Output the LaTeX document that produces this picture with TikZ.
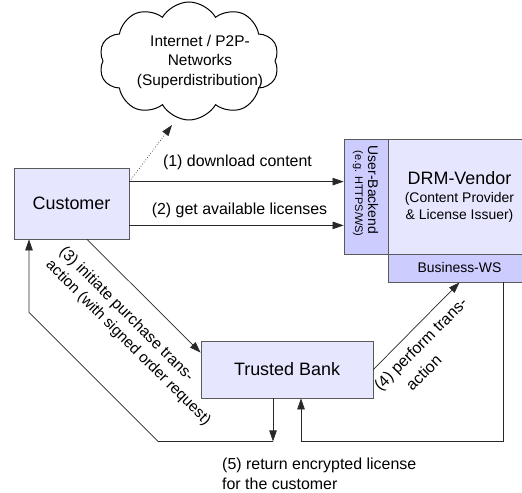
\documentclass[tikz,border=0pt]{standalone}
\usepackage{fontspec}
\setmainfont{Liberation Sans}
\usetikzlibrary{shapes.symbols,arrows.meta,calc}

\definecolor{boxfill}{RGB}{230,230,255}
\definecolor{portfill}{RGB}{204,204,255}
\definecolor{boxline}{RGB}{90,90,90}
\definecolor{wire}{RGB}{40,40,40}

\newcommand\fsz[2]{\fontsize{#1}{#2}\selectfont}

\begin{document}
\begin{tikzpicture}[x=1bp,y=-1bp,
  arr/.style={draw=wire, line width=0.7bp, -{Triangle[length=11bp,width=7.5bp]}},
  box/.style={draw=boxline, fill=boxfill, rectangle, inner sep=0pt, line width=0.8bp},
  port/.style={box, fill=portfill},
  lbl/.style={font=\fsz{16}{19.5}, inner sep=0pt}]
\useasboundingbox (0,0) rectangle (522,493);

% the distribution cloud
\node[cloud, draw, fill=white, cloud puffs=10, cloud puff arc=120, aspect=1.5,
      minimum width=180bp, minimum height=118bp, inner sep=0pt, line width=1bp] (net) at (189,61) {};
\node[lbl, align=center, font=\fsz{15.5}{20}] (nettext) at (200,62)
  {Internet / P2P-\\Networks\\(Superdistribution)};

% parties
\node[box, minimum width=115bp, minimum height=71bp, font=\fsz{18}{20}] (cust) at (71.5,203.5) {Customer};

\node[box, minimum width=143bp, minimum height=115bp] (vendor) at (459.5,196.5) {};
\node[font=\fsz{18}{20}, inner sep=0pt] (vt1) at (459.5,178) {DRM-Vendor};
\node[font=\fsz{14}{17}, align=center, inner sep=0pt] (vt2) at (459.5,207.5) {(Content Provider\\\& License Issuer)};

\node[port, minimum width=44bp, minimum height=115bp] (backend) at (366,196.5) {};
\node[rotate=-90, font=\fsz{14}{16}, inner sep=0pt] (ub1) at (373,190) {User-Backend};
\node[rotate=-90, font=\fsz{11}{13}, inner sep=0pt] (ub2) at (358,193.5) {(e.g. HTTPS/WS)};

\node[port, minimum width=143bp, minimum height=28bp, font=\fsz{14}{16}] (bws) at (459.5,268) {Business-WS};

\node[box, minimum width=172bp, minimum height=57bp, font=\fsz{18}{20}] (bank) at (287,369.5) {Trusted Bank};

% (1) and (2): customer to user backend
\coordinate (c1) at ([yshift=-14bp]cust.north east);
\coordinate (c2) at ([yshift=14bp]cust.south east);
\draw[arr] (c1) -- (c1 -| backend.west)
  node[lbl, midway, yshift=19bp, xshift=1bp] (l1) {(1) download content};
\draw[arr] (c2) -- (c2 -| backend.west)
  node[lbl, midway, yshift=15bp, xshift=3bp] (l2) {(2) get available licenses};

% superdistribution
\coordinate (cl) at (172,125);
\draw[arr, dotted] (c1) -- (cl);

% (3) purchase transaction
\coordinate (c3) at ([xshift=15.5bp]cust.south);
\draw[arr] (c3) -- ([yshift=-12bp]bank.north west);
\node[lbl, rotate=-45, anchor=west, font=\fsz{15.8}{19}] (l3a) at (61.5,249.5) {(3) initiate purchase trans-};
\node[lbl, rotate=-45, anchor=west, font=\fsz{15.3}{19}] (l3b) at (48,263) {action (with signed order request)};

% (4) perform transaction
\draw[arr] (bank.east) -- (bws.south);
\node[lbl, rotate=45] (l4a) at (421.5,345) {(4) perform trans-};
\node[lbl, rotate=45] (l4b) at (423.5,372.5) {action};

% (5) license back to the customer
\coordinate (r1) at ($(bank.south)+(-14,43)$);
\coordinate (r5) at ($(bank.south)+(14,43)$);
\coordinate (r4) at ($(bws.south)+(43.5,0)$);
\draw[arr] (r1 |- bank.south) -- (r1);
\draw[arr] (r1) -- ++(-115,0) coordinate (r2) -- ++(-129,-129) coordinate (r3) -- (r3 |- cust.south);
\draw[arr] (r4) |- (r5) -- (r5 |- bank.south);
\node[lbl, align=left, anchor=west] (l5) at (222,474) {(5) return encrypted license\\for the customer};
\end{tikzpicture}
\end{document}
